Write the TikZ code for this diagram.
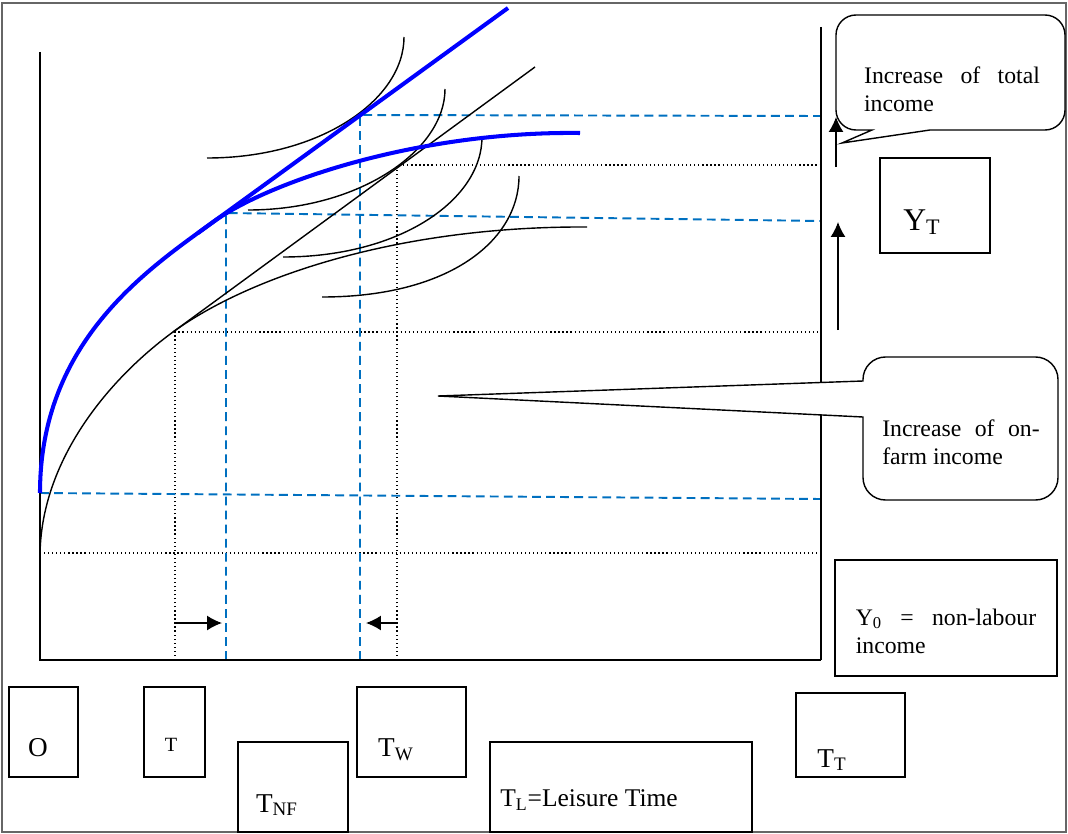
\documentclass[tikz,border=0pt]{standalone}
\usepackage{fontspec}
\setmainfont{Liberation Serif}
\usetikzlibrary{arrows.meta, positioning}
\definecolor{guideblue}{RGB}{0,112,192}
\tikzset{
    box/.style = {draw, line width=0.8pt, fill=white, inner sep=0pt},
    lbl/.style = {inner sep=0pt, font=\fontsize{15.5}{18}\selectfont},
    note/.style = {inner sep=0pt, align=justify, font=\fontsize{13.5}{15.9}\selectfont},
    callout/.style = {draw, fill=white, line width=0.8pt},
    axis/.style = {line width=1.1pt},
    curve/.style = {line width=0.8pt},
    thickblue/.style = {blue, line width=2.3pt},
    guide/.style = {guideblue, line width=1.1pt, dash pattern=on 5pt off 3pt},
    dotguide/.style = {line width=0.7pt, dash pattern=on 0.7pt off 1.6pt},
    arrow/.style = {-{Latex[length=8.5pt, width=8.5pt]}, line width=0.8pt}
}

\begin{document}
\begin{tikzpicture}[x=0.2mm, y=-0.2mm]
    \useasboundingbox (0,0) rectangle (1068,834);
    \draw[black!60, line width=0.6pt] (2,3) rectangle (1066,832);

    % dotted guides
    \draw[dotguide] (40,553) -- (821,553);
    \draw[dotguide] (175,660) -- (175,332) -- (821,332);
    \draw[dotguide] (397,660) -- (397,165) -- (821,165);

    % dashed guides
    \draw[guide] (40,493) -- (821,499);
    \draw[guide] (226,660) -- (226,213) -- (821,221);
    \draw[guide] (360,660) -- (360,115) -- (821,116);

    % axes
    \draw[axis] (40,52) -- (40,660) -- (821,660);
    \draw[axis] (821,27) -- (821,660);

    % production curve and wage line
    \draw[curve] (40,557) .. controls (40,460) and (110,378) .. (173,332)
        .. controls (250,276) and (400,226) .. (587,227);
    \draw[curve] (173,332) -- (535,67);

    % indifference curves
    \draw[curve] (207,158) .. controls (320,158) and (404,100) .. (404,37);
    \draw[curve] (248,210) .. controls (360,210) and (445,150) .. (445,89);
    \draw[curve] (283,257) .. controls (400,257) and (482,200) .. (482,137);
    \draw[curve] (322,297) .. controls (450,297) and (519,240) .. (519,176);

    % total income curve
    \draw[thickblue] (40,493) .. controls (40,340) and (150,268) .. (213,222)
        .. controls (270,181) and (420,131) .. (580,133);
    \draw[thickblue] (198,233) -- (508,8);

    % arrows
    \coordinate (tnfFrom) at (175,623);
    \coordinate (tnfTo) at (222,623);
    \coordinate (twFrom) at (397,623);
    \coordinate (twTo) at (366,623);
    \coordinate (ytFrom) at (838,330);
    \coordinate (ytTo) at (838,222);
    \coordinate (totFrom) at (836,167);
    \coordinate (totTo) at (836,117);
    \draw[arrow] (tnfFrom) -- (tnfTo);
    \draw[arrow] (twFrom) -- (twTo);
    \draw[arrow] (ytFrom) -- (ytTo);
    \draw[arrow] (totFrom) -- (totTo);

    % callouts
    \draw[callout] (1000,130) [rounded corners=4mm] -- (1065,130) -- (1065,15) -- (836,15) -- (836,130)
        [sharp corners] -- (872,130) -- (842,143) -- (930,130) -- cycle;
    \node[note, text width=100pt] (totalNote) at (952,89) {Increase of total\linebreak income};

    \draw[callout] (960,500) [rounded corners=4.5mm] -- (1058,500) -- (1058,357) -- (863,357)
        [sharp corners] -- (863,381) -- (438,396) -- (863,417) [rounded corners=4.5mm] -- (863,500) -- cycle;
    \node[note, text width=89.6pt] (farmNote) at (961,442) {Increase of on-\linebreak farm income};

    % boxes
    \node[box, minimum width=22mm, minimum height=19mm] (bYT) at (935,205.5) {};
    \node[lbl, font=\fontsize{18}{20}\selectfont] (tYT) at (922,222) {Y\textsubscript{T}};
    \node[box, minimum width=44.4mm, minimum height=23.2mm] (bY0) at (946,618) {};
    \node[note, text width=102.6pt] (tY0) at (946,631) {Y\textsubscript{0} = non-labour\linebreak income};

    \node[box, minimum width=13.8mm, minimum height=18mm] (bO) at (43.5,732) {};
    \node[lbl] (tO) at (38,748) {O};
    \node[box, minimum width=12.2mm, minimum height=18mm] (bT) at (174.5,732) {};
    \node[lbl, font=\fontsize{11.5}{13}\selectfont] (tT) at (171,745) {T};
    \node[box, minimum width=22mm, minimum height=18mm] (bTNF) at (293,787) {};
    \node[lbl] (tTNF) at (277,805) {T\textsubscript{NF}};
    \node[box, minimum width=21.8mm, minimum height=18mm] (bTW) at (411.5,732) {};
    \node[lbl] (tTW) at (396,750) {T\textsubscript{W}};
    \node[box, minimum width=52.4mm, minimum height=18mm] (bTL) at (621,787) {};
    \node[lbl, font=\fontsize{14.5}{17}\selectfont] (tTL) at (589,800) {T\textsubscript{L}=Leisure Time};
    \node[box, minimum width=21.8mm, minimum height=16.8mm] (bTT) at (850.5,735) {};
    \node[lbl] (tTT) at (832,760) {T\textsubscript{T}};
\end{tikzpicture}
\end{document}
